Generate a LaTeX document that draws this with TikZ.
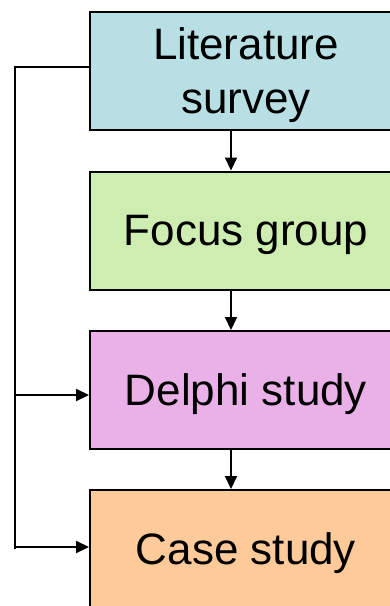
\documentclass[tikz,border=0pt]{standalone}
\usepackage{fontspec}
\setmainfont{Liberation Sans}
\usetikzlibrary{arrows.meta}
\definecolor{litblue}{HTML}{B8DFE4}
\definecolor{focusgreen}{HTML}{CDEEB0}
\definecolor{delphipink}{HTML}{E9B1E8}
\definecolor{caseorange}{HTML}{FECA99}
\tikzset{
  stage/.style={draw=black, line width=2pt, minimum width=312pt, minimum height=118pt,
    inner sep=0pt, text depth=0pt, align=center, font=\fontsize{44}{54}\selectfont},
  flow/.style={line width=2pt, -{Triangle[length=13pt,width=12pt]}},
  link/.style={line width=2pt}
}
\begin{document}
\begin{tikzpicture}[x=1pt,y=1pt]
  \useasboundingbox (0,0) rectangle (390,-606);
  \clip (0,0) rectangle (390,-606);
  \fill[white] (0,0) rectangle (390,-606);
  % the four research stages
  \node[stage, fill=litblue]     (lit)    at (246,-71)  {Literature\\survey};
  \node[stage, fill=focusgreen]  (focus)  at (246,-230.5) {Focus group};
  \node[stage, fill=delphipink]  (delphi) at (246,-390) {Delphi study};
  \node[stage, fill=caseorange]  (case)   at (246,-549) {Case study};
  % guide positions for the connectors
  \coordinate (ax)  at (231,0);
  \coordinate (bus) at (15,0);
  % sequential flow
  \draw[flow] (lit.south -| ax)    -- (focus.north -| ax);
  \draw[flow] (focus.south -| ax)  -- (delphi.north -| ax);
  \draw[flow] (delphi.south -| ax) -- (case.north -| ax);
  % feedback bus on the left
  \draw[link] ([yshift=4pt]lit.west) -| (bus |- case.west);
  \draw[flow] ([yshift=-5pt]delphi.west -| bus) -- ([yshift=-5pt]delphi.west);
  \draw[flow] ([yshift=2pt]case.west -| bus) -- ([yshift=2pt]case.west);
\end{tikzpicture}
\end{document}
